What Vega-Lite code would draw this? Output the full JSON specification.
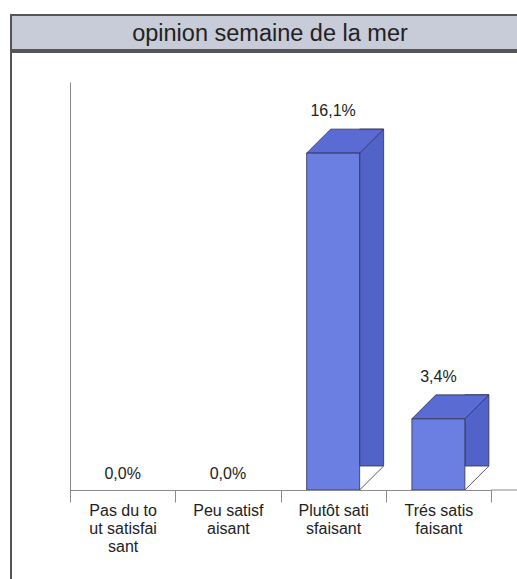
{
  "$schema": "https://vega.github.io/schema/vega-lite/v6.json",
  "background": "white",
  "padding": {"left": 10, "top": 14, "right": 0, "bottom": 0},
  "spacing": 0,
  "config": {
    "font": "Liberation Sans",
    "locale": {"number": {"decimal": ",", "thousands": " ", "grouping": [3], "currency": ["", " €"]}}
  },
  "vconcat": [
    {
      "width": 518,
      "height": 35,
      "view": {"fill": "#c8ccd8", "stroke": "#555555", "strokeWidth": 2},
      "data": {"values": [{"t": "opinion semaine de la mer"}]},
      "mark": {"type": "text", "fontSize": 23.5, "font": "Liberation Sans", "color": "#222222", "baseline": "alphabetic", "dy": 8},
      "encoding": {"text": {"field": "t", "type": "nominal"}}
    },
    {
      "width": 518,
      "height": 535,
      "view": {"fill": "white", "stroke": "#555555", "strokeWidth": 2},
      "data": {"values": [
        {"cat": "Pas du tout satisfaisant", "v": 0},
        {"cat": "Peu satisfaisant", "v": 0},
        {"cat": "Plutôt satisfaisant", "v": 0.161},
        {"cat": "Trés satisfaisant", "v": 0.034}
      ]},
      "encoding": {
        "x": {
          "field": "cat", "type": "nominal", "sort": null,
          "scale": {"domain": ["Pas du tout satisfaisant", "Peu satisfaisant", "Plutôt satisfaisant", "Trés satisfaisant"], "range": [59, 480], "paddingInner": 0, "paddingOuter": 0},
          "axis": {
            "title": null, "offset": -97, "tickBand": "extent", "grid": false,
            "domainColor": "#8a8a8a", "tickColor": "#8a8a8a", "tickSize": 12,
            "labelFont": "Liberation Sans", "labelFontSize": 16, "labelColor": "#222222",
            "labelAngle": 0, "labelPadding": 0, "labelLineHeight": 18, "zindex": 1,
            "labelExpr": "{'Pas du tout satisfaisant': ['Pas du to', 'ut satisfai', 'sant'], 'Peu satisfaisant': ['Peu satisf', 'aisant'], 'Plutôt satisfaisant': ['Plutôt sati', 'sfaisant'], 'Trés satisfaisant': ['Trés satis', 'faisant']}[datum.value]"
          }
        },
        "y": {
          "field": "v", "type": "quantitative",
          "scale": {"domain": [0, 0.195], "range": [438, 30], "nice": false},
          "axis": {"title": null, "offset": -59, "labels": false, "ticks": false, "grid": false, "domainColor": "#8a8a8a", "zindex": 1}
        }
      },
      "layer": [
        {
          "transform": [{"filter": "datum.cat == 'Trés satisfaisant'"}],
          "mark": {"type": "rule", "color": "#8a8a8a", "strokeWidth": 1},
          "encoding": {
            "x": {"field": "cat", "type": "nominal", "bandPosition": 1},
            "x2": {"value": {"expr": "width"}},
            "y": {"datum": 0, "type": "quantitative"}
          }
        },
        {
          "transform": [{"filter": "datum.v > 0"}],
          "mark": {"type": "bar", "width": 24, "xOffset": 38.5, "yOffset": -24, "fill": "#5163c8", "stroke": "#303050", "strokeWidth": 0.8}
        },
        {
          "transform": [{"filter": "datum.v > 0"}],
          "mark": {"type": "point", "shape": "M51.8,-25.3 L26.5,0 L26.5,1 L51.8,1 Z", "size": 4, "filled": true, "fill": "white", "strokeWidth": 0, "opacity": 1},
          "encoding": {"y": {"datum": 0, "type": "quantitative"}}
        },
        {
          "transform": [{"filter": "datum.v > 0"}],
          "mark": {"type": "point", "shape": "M50.5,-24 L26.5,0", "size": 4, "filled": false, "stroke": "#303050", "strokeWidth": 0.8, "opacity": 1},
          "encoding": {"y": {"datum": 0, "type": "quantitative"}}
        },
        {
          "transform": [{"filter": "datum.v > 0"}],
          "mark": {"type": "point", "shape": "M-26.5,0 L26.5,0 L50.5,-24 L-2.5,-24 Z", "size": 4, "filled": true, "fill": "#5a6cd3", "stroke": "#303050", "strokeWidth": 0.8, "opacity": 1}
        },
        {
          "transform": [{"filter": "datum.v > 0"}],
          "mark": {"type": "bar", "width": 53, "fill": "#6b7ee2", "stroke": "#303050", "strokeWidth": 0.8}
        },
        {
          "transform": [{"filter": "datum.v > 0"}],
          "mark": {"type": "text", "fontSize": 16, "color": "#222222", "baseline": "alphabetic", "dy": -37},
          "encoding": {"text": {"field": "v", "type": "quantitative", "format": ".1%"}}
        },
        {
          "transform": [{"filter": "datum.v == 0"}],
          "mark": {"type": "text", "fontSize": 16, "color": "#222222", "baseline": "alphabetic", "dy": -11},
          "encoding": {"text": {"field": "v", "type": "quantitative", "format": ".1%"}}
        }
      ]
    }
  ]
}
